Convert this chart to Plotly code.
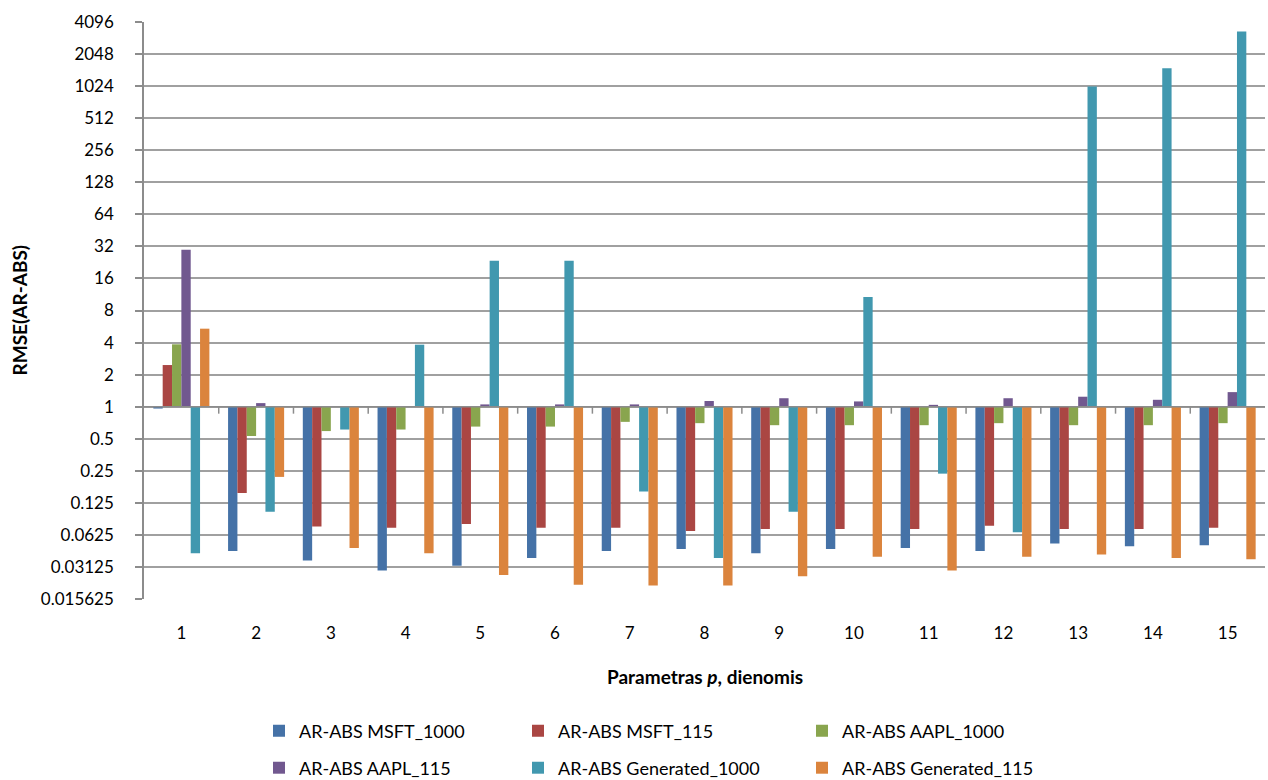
import math
import plotly.graph_objects as go

categories = list(range(1, 16))
series_names = ["AR-ABS MSFT_1000", "AR-ABS MSFT_115", "AR-ABS AAPL_1000",
                "AR-ABS AAPL_115", "AR-ABS Generated_1000", "AR-ABS Generated_115"]
msft_1000 = [0.96, 0.044, 0.036, 0.029, 0.032, 0.038, 0.044, 0.046, 0.042, 0.046, 0.047, 0.044, 0.052, 0.049, 0.050]
msft_115 = [2.46, 0.155, 0.075, 0.073, 0.079, 0.073, 0.073, 0.068, 0.071, 0.071, 0.071, 0.076, 0.071, 0.071, 0.073]
aapl_1000 = [3.85, 0.53, 0.59, 0.61, 0.65, 0.65, 0.72, 0.70, 0.67, 0.67, 0.67, 0.70, 0.67, 0.67, 0.70]
aapl_115 = [29.8, 1.08, 1.0, 1.0, 1.05, 1.05, 1.05, 1.13, 1.20, 1.12, 1.04, 1.20, 1.24, 1.16, 1.37]
gen_1000 = [0.042, 0.103, 0.61, 3.82, 23.5, 23.5, 0.16, 0.038, 0.103, 10.7, 0.235, 0.066, 1016, 1510, 3330]
gen_115 = [5.4, 0.219, 0.047, 0.042, 0.0263, 0.0213, 0.0209, 0.0209, 0.0255, 0.039, 0.029, 0.039, 0.041, 0.038, 0.037]
tick_values = [2.0 ** k for k in range(-6, 13)]
tick_labels = ["0.015625", "0.03125", "0.0625", "0.125", "0.25", "0.5", "1", "2", "4", "8",
               "16", "32", "64", "128", "256", "512", "1024", "2048", "4096"]

colors = ["#4572A7", "#AA4643", "#89A54E", "#71588F", "#4198AF", "#DB843D"]
all_series = [msft_1000, msft_115, aapl_1000, aapl_115, gen_1000, gen_115]

W, H = 1268, 780
L, R, T, B = 144, 3, 22, 181
FONT = "Lato"
FS = 17
plot_w = W - L - R
plot_h = H - T - B

fig = go.Figure()
legend_px = [(259, 731), (518, 731), (802, 731), (259, 768), (518, 768), (802, 768)]
for i, (name, vals, col) in enumerate(zip(series_names, all_series, colors)):
    lg = "legend" if i == 0 else f"legend{i+1}"
    fig.add_trace(go.Bar(
        x=categories, y=[v - 1 for v in vals], base=[1] * len(vals),
        name=name, marker=dict(color=col, line=dict(width=0)),
        legend=lg, customdata=vals, hovertemplate="%{customdata}<extra>" + name + "</extra>",
    ))

legends = {}
for i, (px, py) in enumerate(legend_px):
    key = "legend" if i == 0 else f"legend{i+1}"
    legends[key] = dict(
        xref="container", yref="container", x=px / W, y=1 - py / H,
        xanchor="left", yanchor="middle", orientation="h",
        font=dict(family=FONT, size=18, color="#000"), bgcolor="rgba(0,0,0,0)",
    )

lo, hi = math.log10(tick_values[0]), math.log10(tick_values[-1])
one_frac = (0 - lo) / (hi - lo)

shapes = [dict(type="line", xref="paper", yref="paper", x0=0, x1=1, y0=one_frac, y1=one_frac,
               line=dict(color="#8C8C8C", width=1.5))]
for c in categories[:-1]:
    shapes.append(dict(type="line", xref="x", yref="paper", x0=c + 0.5, x1=c + 0.5,
                       y0=one_frac, y1=one_frac - 7 / plot_h, line=dict(color="#8C8C8C", width=1.5)))

fig.update_layout(
    width=W, height=H, margin=dict(l=L, r=R, t=T, b=B, autoexpand=False),
    paper_bgcolor="white", plot_bgcolor="white",
    barmode="group", bargap=0.25, bargroupgap=0,
    font=dict(family=FONT, size=FS, color="#000"),
    showlegend=True, shapes=shapes,
    **legends,
)
fig.update_xaxes(range=[0.5, 15.5], tickvals=categories, ticktext=[str(c) for c in categories],
                 showgrid=False, showline=False, zeroline=False, ticks="",
                 ticklabelstandoff=22, tickfont=dict(family=FONT, size=FS))
fig.update_yaxes(type="log", range=[lo, hi], tickvals=tick_values, ticktext=tick_labels,
                 showgrid=True, gridcolor="#A0A0A0", gridwidth=1.5,
                 showline=True, linecolor="#8C8C8C", linewidth=1.5,
                 ticks="outside", ticklen=7, tickcolor="#8C8C8C", tickwidth=1.5,
                 ticklabelstandoff=18, tickfont=dict(family=FONT, size=FS))

fig.add_annotation(xref="paper", yref="paper", x=0.5, y=-(676 - (H - B)) / plot_h,
                   text="<b>Parametras <i>p</i>, dienomis</b>", showarrow=False,
                   xanchor="center", yanchor="middle", font=dict(family=FONT, size=19))
fig.add_annotation(xref="paper", yref="paper", x=(19 - L) / plot_w, y=0.5,
                   text="<b>RMSE(AR-ABS)</b>", showarrow=False, textangle=-90,
                   xanchor="center", yanchor="middle", font=dict(family=FONT, size=19))

fig.write_html("out.html")
